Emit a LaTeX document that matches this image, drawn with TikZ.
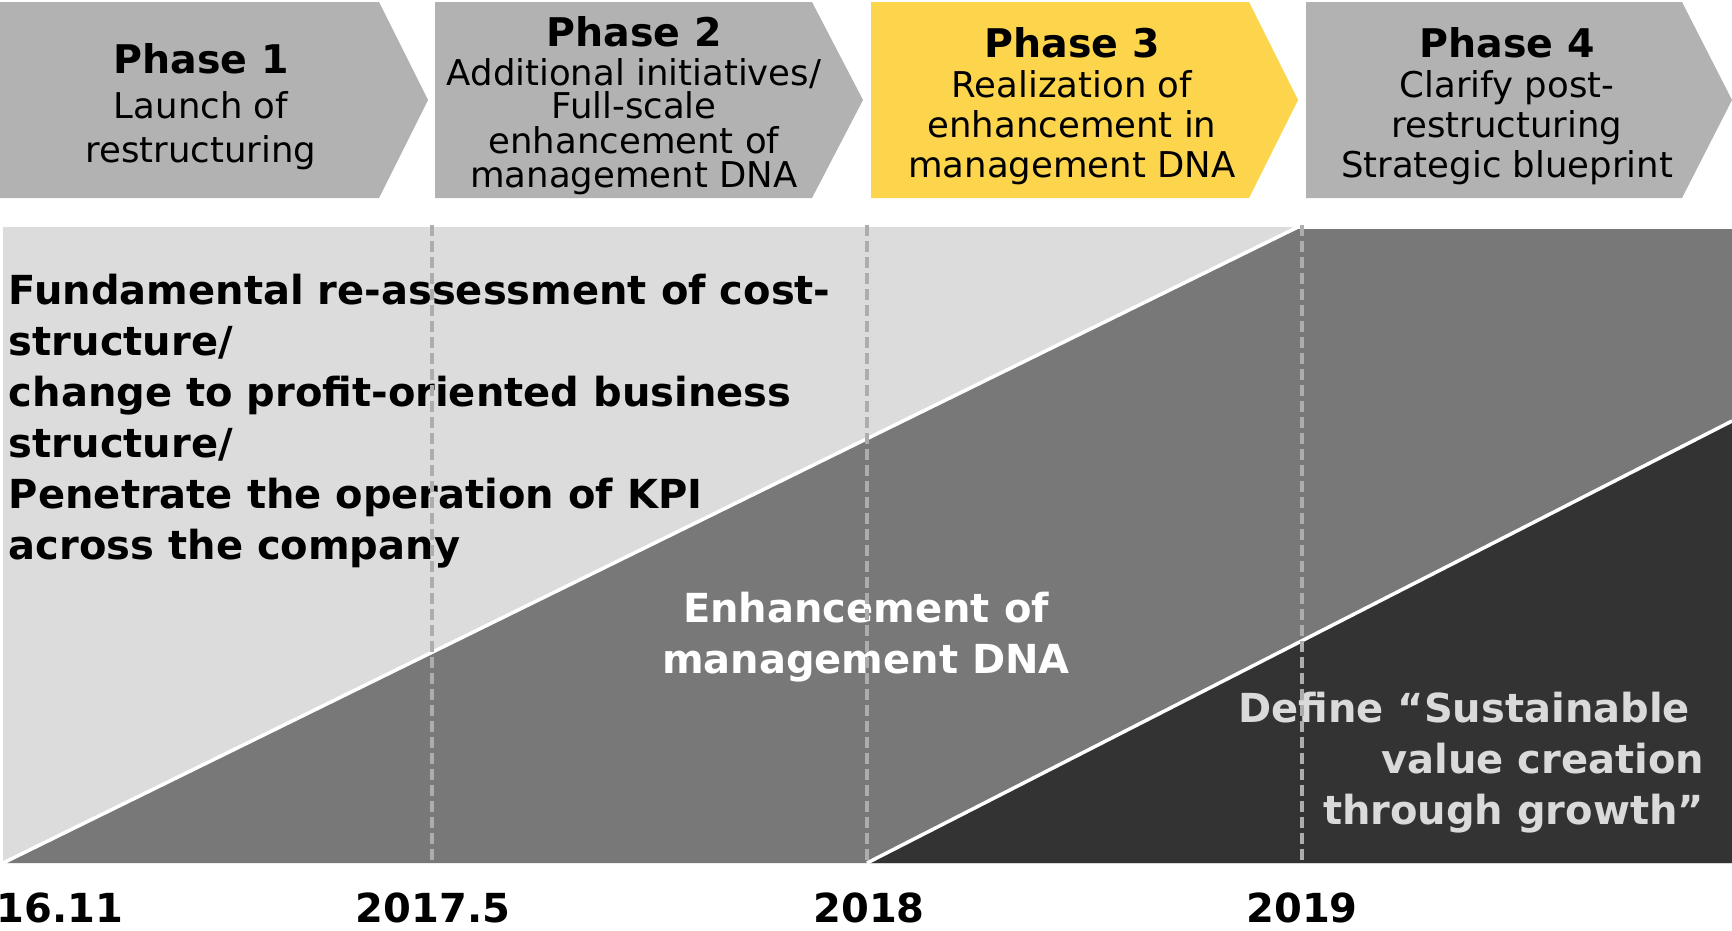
\documentclass[tikz,border=0pt]{standalone}
\usepackage{fontspec}
\setmainfont{DejaVu Sans}
\definecolor{chevgray}{RGB}{178,178,178}
\definecolor{chevyellow}{RGB}{252,213,77}
\definecolor{lightarea}{RGB}{220,220,220}
\definecolor{midarea}{RGB}{120,120,120}
\definecolor{darkarea}{RGB}{51,51,51}
\definecolor{dashgray}{RGB}{173,173,173}
\definecolor{paletext}{RGB}{218,218,218}
\begin{document}
\begin{tikzpicture}[x=1pt,y=-1pt,
  txt/.style={inner sep=0pt, outer sep=0pt},
  ttl/.style={txt, anchor=base, font=\fontsize{39.5}{39}\selectfont\bfseries},
  sub/.style={txt, anchor=base, font=\fontsize{35.5}{36}\selectfont},
  big/.style={txt, font=\fontsize{40}{51}\selectfont\bfseries},
  divider/.style={dashgray, line width=3.5pt, dash pattern=on 11pt off 5pt},
  sep/.style={white, line width=3.5pt}
  ]
\useasboundingbox (0,0) rectangle (1732,930);

% chevrons
\fill[chevgray] (0,2) -- (379,2) -- (428,100) -- (379,198) -- (0,198) -- cycle;
\fill[chevgray] (435,2) -- (812,2) -- (863,100) -- (812,198) -- (435,198) -- cycle;
\fill[chevyellow] (871,2) -- (1249,2) -- (1298,100) -- (1249,198) -- (871,198) -- cycle;
\fill[chevgray] (1306,2) -- (1682,2) -- (1732,100) -- (1682,198) -- (1306,198) -- cycle;

% phase texts
\node[ttl] (p1t) at (201,73) {Phase 1};
\node[sub] (p1a) at (201,118) {Launch of};
\node[sub] (p1b) at (201,162) {restructuring};

\node[ttl] (p2t) at (634,46) {Phase 2};
\node[sub] (p2a) at (634,85) {Additional initiatives/};
\node[sub] (p2b) at (634,118) {Full-scale};
\node[sub] (p2c) at (634,153) {enhancement of};
\node[sub] (p2d) at (634,187) {management DNA};

\node[ttl] (p3t) at (1072,57) {Phase 3};
\node[sub] (p3a) at (1072,97) {Realization of};
\node[sub] (p3b) at (1072,137) {enhancement in};
\node[sub] (p3c) at (1072,177) {management DNA};

\node[ttl] (p4t) at (1507,57) {Phase 4};
\node[sub] (p4a) at (1507,97) {Clarify post-};
\node[sub] (p4b) at (1507,137) {restructuring};
\node[sub] (p4c) at (1507,177) {Strategic blueprint};

% areas
\fill[lightarea] (3,227) rectangle (1298,863);
\fill[midarea] (3,863) -- (1298,227) -- (1298,229) -- (1732,229) -- (1732,863) -- cycle;
\fill[darkarea] (867,863) -- (1732,421) -- (1732,863) -- cycle;

\coordinate (d1a) at (3,863);
\coordinate (d1b) at (1298,227);
\coordinate (d2a) at (867,863);
\coordinate (d2b) at (1732,421);
\draw[sep] (d1a) -- (d1b);
\draw[sep] (d2a) -- (d2b);

% texts in areas
\node[big, anchor=base west] (m1) at (9,304) {Fundamental re-assessment of cost-};
\node[big, anchor=base west] (m2) at (9,355) {structure/};
\node[big, anchor=base west] (m3) at (9,406) {change to profit-oriented business};
\node[big, anchor=base west] (m4) at (9,457) {structure/};
\node[big, anchor=base west] (m5) at (9,508) {Penetrate the operation of KPI};
\node[big, anchor=base west] (m6) at (9,559) {across the company};

\node[big, anchor=base, white] (e1) at (866,622) {Enhancement of};
\node[big, anchor=base, white] (e2) at (866,673) {management DNA};

\node[big, anchor=base east, paletext] (s1) at (1704,722) {Define “Sustainable\phantom{\ }};
\node[big, anchor=base east, paletext] (s2) at (1704,773) {value creation};
\node[big, anchor=base east, paletext] (s3) at (1704,824) {through growth”};

% dashed dividers
\coordinate (v1t) at (432,225); \coordinate (v1b) at (432,863);
\coordinate (v2t) at (867,225); \coordinate (v2b) at (867,863);
\coordinate (v3t) at (1302,225); \coordinate (v3b) at (1302,863);
\draw[divider] (v1t) -- (v1b);
\draw[divider] (v2t) -- (v2b);
\draw[divider] (v3t) -- (v3b);

% dates
\node[big, anchor=base west] (t0) at (-3,922) {16.11};
\node[big, anchor=base] (t1) at (433,922) {2017.5};
\node[big, anchor=base] (t2) at (869,922) {2018};
\node[big, anchor=base] (t3) at (1302,922) {2019};
\end{tikzpicture}
\end{document}
